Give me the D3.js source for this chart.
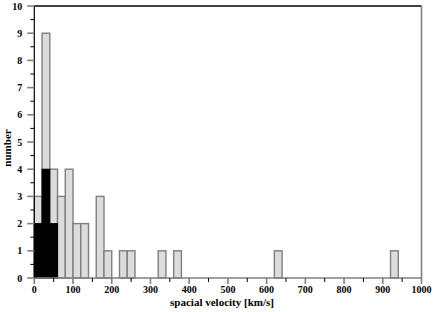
<!DOCTYPE html>
<html>
<head>
<meta charset="utf-8">
<script src="https://cdn.jsdelivr.net/npm/d3@7"></script>
<style>
  body { margin: 0; background: #fff; }
  text { font-family: "Liberation Serif", "DejaVu Serif", serif; font-weight: bold; }
</style>
</head>
<body>
<svg id="chart" width="436" height="312"></svg>
<script>
// histogram bins (20 km/s wide), left edges
const binStarts = [0, 20, 40, 60, 80, 100, 120, 160, 180, 220, 240, 320, 360, 620, 920];
const allCounts = [3, 9, 4, 3, 4, 2, 2, 3, 1, 1, 1, 1, 1, 1, 1];
const subStarts = [0, 20, 40];
const subCounts = [2, 4, 2];
const binWidth = 20;
const xTicks = [0, 100, 200, 300, 400, 500, 600, 700, 800, 900, 1000];
const yTicks = [0, 1, 2, 3, 4, 5, 6, 7, 8, 9, 10];

const svg = d3.select("#chart");
const pL = 34.3, pR = 421.5, pT = 6, pB = 278;
const x = d3.scaleLinear().domain([0, 1000]).range([pL, pR]);
const y = d3.scaleLinear().domain([0, 10]).range([pB, pT]);
const grey = "#7f7f7f";

// gray bars (all objects)
svg.append("g").selectAll("rect")
  .data(binStarts.map((s, i) => ({ s, c: allCounts[i] })))
  .enter().append("rect")
  .attr("x", d => x(d.s))
  .attr("y", d => y(d.c))
  .attr("width", d => x(d.s + binWidth) - x(d.s))
  .attr("height", d => y(0) - y(d.c))
  .attr("fill", "#dcdcdc")
  .attr("stroke", grey)
  .attr("stroke-width", 1.4);

// black bars (subset)
svg.append("g").selectAll("rect")
  .data(subStarts.map((s, i) => ({ s, c: subCounts[i] })))
  .enter().append("rect")
  .attr("x", d => x(d.s))
  .attr("y", d => y(d.c))
  .attr("width", d => x(d.s + binWidth) - x(d.s))
  .attr("height", d => y(0) - y(d.c))
  .attr("fill", "#000")
  .attr("stroke", "#000")
  .attr("stroke-width", 1);

// frame
svg.append("line").attr("x1", pL).attr("x2", pR).attr("y1", pT).attr("y2", pT)
  .attr("stroke", "#000").attr("stroke-width", 1.4);
svg.append("line").attr("x1", pR).attr("x2", pR).attr("y1", pT).attr("y2", pB)
  .attr("stroke", grey).attr("stroke-width", 1.6);

// x axis
const gx = svg.append("g");
gx.append("line").attr("x1", pL).attr("x2", pR).attr("y1", pB).attr("y2", pB)
  .attr("stroke", grey).attr("stroke-width", 1.6);
gx.selectAll("line.maj").data(xTicks).enter().append("line").attr("class", "maj")
  .attr("x1", d => x(d)).attr("x2", d => x(d)).attr("y1", pB).attr("y2", pB + 6)
  .attr("stroke", grey).attr("stroke-width", 1.6);
gx.selectAll("line.min").data(xTicks.slice(0, -1).map(d => d + 50)).enter().append("line").attr("class", "min")
  .attr("x1", d => x(d)).attr("x2", d => x(d)).attr("y1", pB).attr("y2", pB + 4)
  .attr("stroke", "#000").attr("stroke-width", 1);
gx.selectAll("text").data(xTicks).enter().append("text")
  .attr("x", d => x(d)).attr("y", pB + 15)
  .attr("text-anchor", "middle").attr("font-size", 10)
  .text(d => d);

// y axis
const gy = svg.append("g");
gy.append("line").attr("x1", pL).attr("x2", pL).attr("y1", pT).attr("y2", pB)
  .attr("stroke", "#000").attr("stroke-width", 1.2);
gy.selectAll("line.maj").data(yTicks).enter().append("line").attr("class", "maj")
  .attr("x1", pL - 7).attr("x2", pL).attr("y1", d => y(d)).attr("y2", d => y(d))
  .attr("stroke", grey).attr("stroke-width", 1.6);
gy.selectAll("line.min").data(yTicks.slice(0, -1).map(d => d + 0.5)).enter().append("line").attr("class", "min")
  .attr("x1", pL - 4).attr("x2", pL).attr("y1", d => y(d)).attr("y2", d => y(d))
  .attr("stroke", "#000").attr("stroke-width", 1);
gy.selectAll("text").data(yTicks).enter().append("text")
  .attr("x", pL - 12).attr("y", d => y(d) + 3.5)
  .attr("text-anchor", "end").attr("font-size", 10)
  .text(d => d);

// axis titles
svg.append("text")
  .attr("x", 222).attr("y", 306)
  .attr("text-anchor", "middle").attr("font-size", 11)
  .text("spacial velocity [km/s]");
svg.append("text")
  .attr("transform", "translate(11,148) rotate(-90)")
  .attr("text-anchor", "middle").attr("font-size", 11)
  .text("number");
</script>
</body>
</html>
